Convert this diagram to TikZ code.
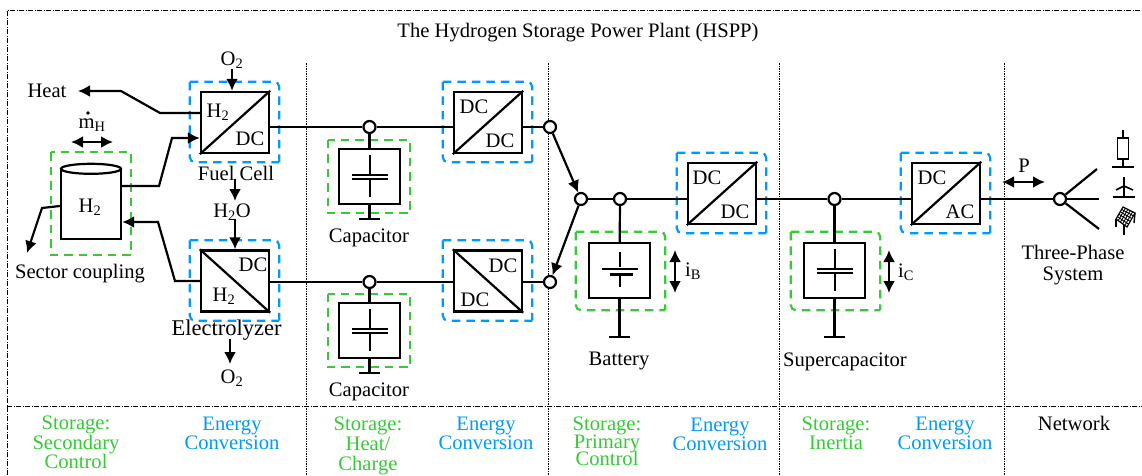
\documentclass[tikz,border=0pt]{standalone}
\usepackage{fontspec}
\setmainfont{Liberation Serif}
\usetikzlibrary{arrows.meta,calc}
\definecolor{convblue}{RGB}{0,153,255}
\definecolor{storegreen}{RGB}{51,204,51}
\newcommand{\tightlines}{\setlength{\lineskiplimit}{-20pt}}
\tikzset{
  txt/.style={inner sep=0pt,font=\fontsize{20.6}{20.6}\selectfont},
  sectxt/.style={txt,align=center,font=\fontsize{20.6}{18.5}\selectfont\tightlines},
  wire/.style={line width=2.2pt},
  plate/.style={line width=2pt},
  flow/.style={wire,-{Latex[length=12pt,width=12pt]}},
  flows/.style={wire,{Latex[length=12pt,width=12pt]}-{Latex[length=12pt,width=12pt]}},
  unit/.style={draw,line width=2.4pt,inner sep=0pt,minimum width=68pt,minimum height=61pt},
  store/.style={draw,line width=2.4pt,inner sep=0pt,minimum width=61pt,minimum height=55pt},
  junct/.style={circle,draw,fill=white,line width=2.2pt,inner sep=0pt,minimum size=12pt},
  framedash/.style={line width=2.2pt,dash pattern=on 8.5pt off 6pt,rounded corners=5pt},
  partline/.style={line width=0.7pt,dash pattern=on 5pt off 1.5pt on 1pt off 1.5pt},
  partdot/.style={line width=0.7pt,dash pattern=on 1.5pt off 1pt}
}
\begin{document}
\begin{tikzpicture}[x=1pt,y=-1pt]
  \useasboundingbox (0,0) rectangle (1142,475);

  %outer frame and sections
  \draw[partline] (7,475) -- (7,10) -- (1142,10);
  \draw[partline] (7,406) -- (1142,406);
  \foreach \x in {306,548,779,1004} {
    \draw[partdot] (\x,63) -- (\x,475);
  }
  \node[txt] (title) at (578,33) {The Hydrogen Storage Power Plant (HSPP)};

  %converters
  \node[unit] (fc) at (235,122.5) {};
  \node[unit] (el) at (235,281) {};
  \node[unit] (dcA) at (488,122.5) {};
  \node[unit] (dcB) at (488,281) {};
  \node[unit] (dcC) at (722,193.5) {};
  \node[unit] (dcac) at (946,193.5) {};
  \foreach \n in {fc,dcA,dcC,dcac} {
    \draw[wire] (\n.south west) -- (\n.north east);
  }
  \foreach \n in {el,dcB} {
    \draw[wire] (\n.north west) -- (\n.south east);
  }
  \foreach \n in {fc,el,dcA,dcB,dcC,dcac} {
    \draw[framedash,convblue] ([shift={(-10,-9)}]\n.north west) -| ([shift={(9,8)}]\n.south east);
    \draw[framedash,convblue] ([shift={(-10,-9)}]\n.north west) |- ([shift={(9,8)}]\n.south east);
  }
  \node[txt] (fcIn) at (218,112) {H\textsubscript{2}};
  \node[txt] (fcOut) at (250,139) {DC};
  \node[txt] (elIn) at (224,296) {H\textsubscript{2}};
  \node[txt] (elOut) at (253,265) {DC};
  \node[txt] (dcAin) at (474,107) {DC};
  \node[txt] (dcAout) at (500,141) {DC};
  \node[txt] (dcBin) at (503,266) {DC};
  \node[txt] (dcBout) at (475,300) {DC};
  \node[txt] (dcCin) at (707,178) {DC};
  \node[txt] (dcCout) at (735,212) {DC};
  \node[txt] (dcacIn) at (932,178) {DC};
  \node[txt] (dcacOut) at (960,212) {AC};

  %storages
  \node[store] (capA) at (369.5,176.5) {};
  \node[store] (capB) at (369.5,330.5) {};
  \node[store] (bat) at (619.5,270.5) {};
  \node[store] (sup) at (834.5,270.5) {};
  \foreach \n in {capA,capB,sup} {
    \draw[plate] ([yshift=-20.5]\n.center) -- ([yshift=-1.5]\n.center);
    \draw[plate] ([yshift=2.5]\n.center) -- ([yshift=21.5]\n.center);
    \draw[plate] ([shift={(-18,-1.5)}]\n.center) -- ([shift={(18,-1.5)}]\n.center);
    \draw[plate] ([shift={(-18,2.5)}]\n.center) -- ([shift={(18,2.5)}]\n.center);
  }
  \draw[plate] ([yshift=-16]bat.center) -- ([yshift=-2]bat.center);
  \draw[plate] ([shift={(-18,-2)}]bat.center) -- ([shift={(18,-2)}]bat.center);
  \draw[line width=3.5pt] ([shift={(-10,4)}]bat.center) -- ([shift={(13,4)}]bat.center);
  \draw[plate] ([yshift=4]bat.center) -- ([yshift=19]bat.center);
  \foreach \n in {capA,capB} {
    \draw[framedash,storegreen,rounded corners=0pt] ([shift={(-10,-8)}]\n.north west) rectangle ([shift={(9,8)}]\n.south east);
  }
  \foreach \n in {bat,sup} {
    \draw[framedash,storegreen] ([shift={(-12,-10)}]\n.north west) -| ([shift={(14,11)}]\n.south east);
    \draw[framedash,storegreen] ([shift={(-12,-10)}]\n.north west) |- ([shift={(14,11)}]\n.south east);
  }

  %H2 tank
  \node[draw,line width=2.4pt,inner sep=0pt,minimum width=60pt,minimum height=69pt] (tank) at (91,204.5) {};
  \draw[line width=2.2pt,fill=white] (tank.north) ellipse (30 and 5);
  \draw[framedash,storegreen,rounded corners=0pt] (51,152) rectangle (131,255);
  \node[txt] (tankLab) at (90,207) {H\textsubscript{2}};

  %junctions
  \node[junct] (nA) at (369.5,127) {};
  \node[junct] (nB) at (369.5,282) {};
  \node[junct] (outA) at (550,127) {};
  \node[junct] (outB) at (550,282) {};
  \node[junct] (busA) at (581,199) {};
  \node[junct] (busB) at (620,199) {};
  \node[junct] (busC) at (834.5,199) {};
  \node[junct] (net) at (1060,199) {};

  %electrical connections
  \draw[wire] (fc.east |- nA) -- (nA);
  \draw[wire] (nA) -- (dcA.west |- nA);
  \draw[wire] (dcA.east |- outA) -- (outA);
  \draw[wire] (el.east |- nB) -- (nB);
  \draw[wire] (nB) -- (dcB.west |- nB);
  \draw[wire] (dcB.east |- outB) -- (outB);
  \draw[flow] (outA) -- (busA);
  \draw[flow] (busA) -- (outB);
  \draw[wire] (busA) -- (busB);
  \draw[wire] (busB) -- (dcC.west |- busB);
  \draw[wire] (dcC.east |- busC) -- (busC);
  \draw[wire] (busC) -- (dcac.west |- busC);
  \draw[wire] (dcac.east |- net) -- (net);
  \draw[wire] (nA) -- (capA);
  \draw[wire] (nB) -- (capB);
  \draw[wire] (busB) -- (bat);
  \draw[wire] (busC) -- (sup);

  %grounds
  \coordinate (gndA) at (369.5,219);
  \coordinate (gndB) at (369.5,373);
  \coordinate (gndC) at (619.5,337);
  \coordinate (gndD) at (834.5,337);
  \draw[wire] (capA) -- (gndA);
  \draw[wire] (capB) -- (gndB);
  \draw[wire] (bat) -- (gndC);
  \draw[wire] (sup) -- (gndD);
  \foreach \n in {gndA,gndB,gndC,gndD} {
    \draw[wire] ([xshift=-10.5]\n) -- ([xshift=10.5]\n);
  }

  %gas and heat paths
  \coordinate (heatEnd) at (78,91);
  \coordinate (couplingEnd) at (27,253);
  \draw[flow] (fc.west |- 0,113) -- (160,113) -- (121,91) -- (heatEnd);
  \draw[flow] (tank.east |- 0,186) -- (159,186) -- (172,138) -- (fc.west |- 0,138);
  \draw[flow] (el.west |- 0,281) -- (175,281) -- (158,222) -- (tank.east |- 0,222);
  \draw[flow] (tank.west |- 0,206) -- (42,208) -- (couplingEnd);
  \coordinate (flowL) at (71,142);
  \coordinate (flowR) at (113,142);
  \draw[flows] (flowL) -- (flowR);

  %texts and arrows around the fuel cell and electrolyzer
  \node[txt] (heat) at (47,91) {Heat};
  \node[txt] (mflow) at (92,125) {m\textsubscript{H}};
  \node[circle,fill,inner sep=0pt,minimum size=3.6pt] (mdot) at (88,113) {};
  \node[txt] (coupling) at (80,274) {Sector coupling};
  \node[txt] (oIn) at (232,60) {O\textsubscript{2}};
  \node[txt] (fcLab) at (236,173) {Fuel Cell};
  \node[txt] (water) at (232,212) {H\textsubscript{2}O};
  \node[txt,font=\fontsize{22.5}{22.5}\selectfont] (elLab) at (226.5,330) {Electrolyzer};
  \node[txt] (oOut) at (232,378) {O\textsubscript{2}};
  \coordinate (waterOut) at (235,201);
  \coordinate (oEnd) at (230,364);
  \draw[flow] (oIn.south) -- (oIn.south |- fc.north);
  \draw[flow] ([yshift=1]fcLab.south -| waterOut) -- (waterOut);
  \draw[flow] ([yshift=2]water.south -| el.north) -- (el.north);
  \draw[flow] ([yshift=1]elLab.south -| oEnd) -- (oEnd);

  %storage labels
  \node[txt] (capAlab) at (369,238) {Capacitor};
  \node[txt] (capBlab) at (369,392) {Capacitor};
  \node[txt] (batLab) at (619,361) {Battery};
  \node[txt] (supLab) at (845,362) {Supercapacitor};
  \coordinate (ibTop) at (675,250);
  \coordinate (ibBot) at (675,293);
  \coordinate (icTop) at (889,250);
  \coordinate (icBot) at (889,293);
  \draw[flows] (ibTop) -- (ibBot);
  \draw[flows] (icTop) -- (icBot);
  \node[txt] (ib) at (693,271) {i\textsubscript{B}};
  \node[txt] (ic) at (906,272) {i\textsubscript{C}};

  %network
  \coordinate (pL) at (1002,182);
  \coordinate (pR) at (1045,182);
  \draw[flows] (pL) -- (pR);
  \node[txt] (p) at (1024,166) {P};
  \coordinate (phA) at (1097,169);
  \coordinate (phB) at (1099,199);
  \coordinate (phC) at (1099,229);
  \draw[wire] (net) -- (phA);
  \draw[wire] (net) -- (phB);
  \draw[wire] (net) -- (phC);
  \node[txt,align=center] (sys) at (1073,265) {Three-Phase\\System};

  %load
  \node[draw,line width=1.6pt,inner sep=0pt,minimum width=11pt,minimum height=21pt] (load) at (1123,148.5) {};
  \draw[line width=1.6pt] (load.north) -- ++(0,-7);
  \draw[line width=1.6pt] (load.south) -- ++(0,8.5);
  \draw[line width=1.8pt] (1112,167) -- (1134,167);
  %wind
  \draw[line width=1.6pt] (1124,177) -- (1124,197);
  \draw[line width=1.6pt] (1116,190) -- (1124,186) -- (1133,190);
  \draw[line width=1.8pt] (1113,197) -- (1135,197);
  %solar
  \coordinate (pvA) at (1123,207);
  \coordinate (pvB) at (1135,213);
  \coordinate (pvC) at (1127,227);
  \coordinate (pvD) at (1116,219);
  \draw[line width=1.2pt] (pvA) -- (pvB) -- (pvC) -- (pvD) -- cycle;
  \foreach \t in {0.2,0.4,0.6,0.8} {
    \draw[line width=0.9pt] ($(pvA)!\t!(pvB)$) -- ($(pvD)!\t!(pvC)$);
    \draw[line width=0.9pt] ($(pvA)!\t!(pvD)$) -- ($(pvB)!\t!(pvC)$);
  }
  \draw[line width=1.4pt] (pvD) -- ++(0,8);
  \draw[line width=1.4pt] (pvB) -- ++(-1,10);
  \draw[line width=1.4pt] (1124,225) -- (1124,235);

  %section names
  \node[sectxt,text=storegreen,anchor=north,font=\fontsize{20.6}{19.5}\selectfont\tightlines] (s1) at (76,416) {Storage:\\Secondary\\Control};
  \node[sectxt,text=convblue,anchor=north] (e1) at (232,417) {Energy\\Conversion};
  \node[sectxt,text=storegreen,anchor=north,font=\fontsize{20.6}{20}\selectfont\tightlines] (s2) at (368,417) {Storage:\\Heat/\\Charge};
  \node[sectxt,text=convblue,anchor=north] (e2) at (486,417) {Energy\\Conversion};
  \node[sectxt,text=storegreen,anchor=north,font=\fontsize{20.6}{17.5}\selectfont\tightlines] (s3) at (607,417) {Storage:\\Primary\\Control};
  \node[sectxt,text=convblue,anchor=north] (e3) at (720,418) {Energy\\Conversion};
  \node[sectxt,text=storegreen,anchor=north] (s4) at (836,417) {Storage:\\Inertia};
  \node[sectxt,text=convblue,anchor=north] (e4) at (945,417) {Energy\\Conversion};
  \node[sectxt,anchor=north] (s5) at (1074,416) {Network};
\end{tikzpicture}
\end{document}
